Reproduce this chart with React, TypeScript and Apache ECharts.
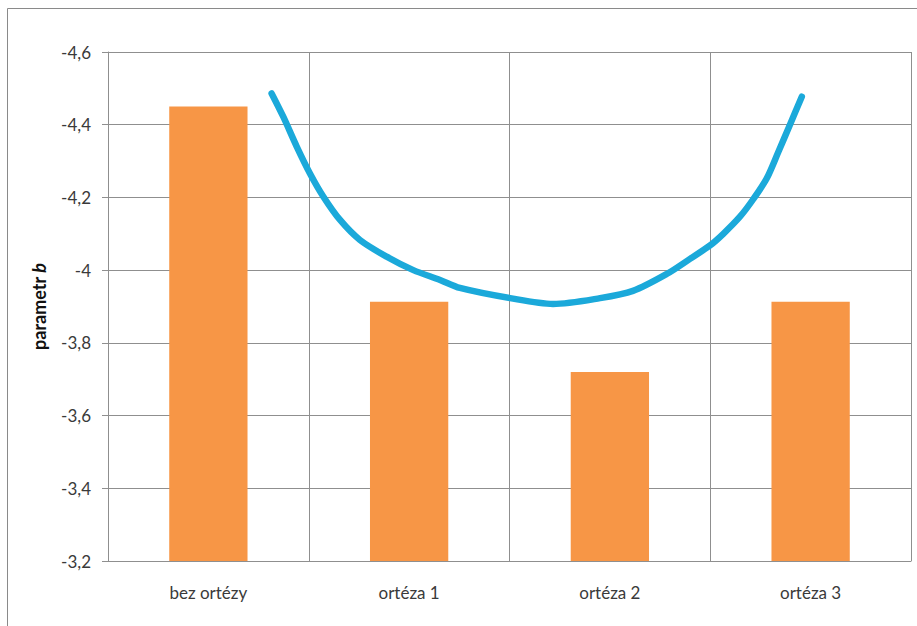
import React, { useEffect, useRef } from "react";
import * as echarts from "echarts";

// Categories and bar heights (parametr b)
const categories = ["bez ortézy", "ortéza 1", "ortéza 2", "ortéza 3"];
const barValues = [-4.45, -3.913, -3.72, -3.913];

// Freehand trend curve, x in category units (0 = left edge of plot, 4 = right edge)
const curveX = [
  0.815, 0.873, 0.94, 1.006, 1.073, 1.156, 1.255, 1.388, 1.521, 1.654, 1.753,
  2.003, 2.217, 2.451, 2.615, 2.785, 2.899, 2.999, 3.065, 3.148, 3.214, 3.281,
  3.339, 3.397, 3.456,
];
const curveY = [
  -4.486, -4.422, -4.34, -4.266, -4.202, -4.138, -4.083, -4.037, -4.0, -3.973, -3.951,
  -3.923, -3.907, -3.923, -3.943, -3.99, -4.031, -4.068, -4.1, -4.147, -4.195, -4.252,
  -4.325, -4.4, -4.477,
];

// Value axis range and step
const yMin = -4.6;
const yMax = -3.2;
const yStep = 0.2;

const FONT = "Lato, 'Noto Sans', sans-serif";
const GRID_COLOR = "#8f8f8f";
const TEXT_COLOR = "#3a3a3a";

function formatTick(v: number): string {
  const r = Math.round(v * 10) / 10;
  return String(r).replace(".", ",");
}

export default function App() {
  const ref = useRef<HTMLDivElement>(null);

  useEffect(() => {
    if (!ref.current) return;
    const chart = echarts.init(ref.current, undefined, { renderer: "svg" });
    chart.setOption({
      animation: false,
      backgroundColor: "#ffffff",
      textStyle: { fontFamily: FONT },
      grid: { left: 108, top: 52, width: 803, height: 509, containLabel: false },
      graphic: [
        {
          type: "rect",
          shape: { x: 7.5, y: 8.5, width: 940, height: 640 },
          style: { fill: "none", stroke: "#8a8a8a", lineWidth: 1 },
          silent: true,
        },
      ],
      xAxis: [
        {
          type: "category",
          data: categories,
          boundaryGap: true,
          axisLine: { show: true, lineStyle: { color: GRID_COLOR, width: 1 } },
          axisTick: { show: false },
          splitLine: { show: true, interval: 0, lineStyle: { color: GRID_COLOR, width: 1 } },
          axisLabel: { color: TEXT_COLOR, fontSize: 17, margin: 23, fontFamily: FONT, interval: 0 },
        },
        {
          type: "value",
          min: 0,
          max: 4,
          show: false,
          position: "bottom",
        },
      ],
      yAxis: {
        type: "value",
        inverse: true,
        min: yMin,
        max: yMax,
        interval: yStep,
        startValue: yMax,
        name: "{a|parametr }{b|b}",
        nameLocation: "middle",
        nameGap: 60,
        nameRotate: 90,
        nameTextStyle: {
          fontSize: 18,
          fontWeight: "bold",
          color: "#111",
          rich: {
            a: { fontSize: 18, fontWeight: "bold", color: "#111", fontFamily: FONT },
            b: { fontSize: 18, fontWeight: "bold", fontStyle: "italic", color: "#111", fontFamily: FONT },
          },
        },
        axisLine: { show: true, lineStyle: { color: GRID_COLOR, width: 1 } },
        axisTick: { show: true, length: 6, lineStyle: { color: GRID_COLOR } },
        splitLine: { show: true, lineStyle: { color: GRID_COLOR, width: 1 } },
        axisLabel: {
          color: TEXT_COLOR,
          fontSize: 17,
          margin: 17,
          fontFamily: FONT,
          formatter: (v: number) => formatTick(v),
        },
      },
      series: [
        {
          type: "bar",
          data: barValues,
          barWidth: "39%",
          itemStyle: { color: "#f79646" },
          clip: true,
          xAxisIndex: 0,
          yAxisIndex: 0,
        },
        {
          type: "line",
          xAxisIndex: 1,
          yAxisIndex: 0,
          data: curveX.map((x, i) => [x, curveY[i]]),
          smooth: 0.3,
          showSymbol: false,
          lineStyle: { color: "#1ba9da", width: 6.5, cap: "round", join: "round" },
          z: 3,
        },
      ],
    });
    return () => chart.dispose();
  }, []);

  return (
    <div
      ref={ref}
      style={{ position: "fixed", left: 0, top: 0, width: 917, height: 626 }}
    />
  );
}
